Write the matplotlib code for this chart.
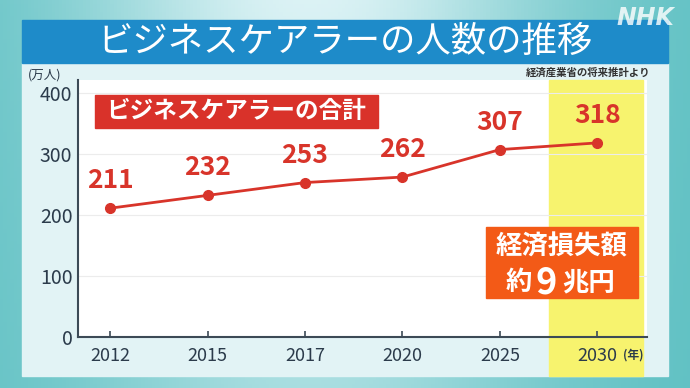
import numpy as np
import matplotlib
matplotlib.use('Agg')
from matplotlib import pyplot as plt
from matplotlib.patches import Rectangle
import matplotlib.transforms as mtransforms

plt.rcParams['font.family'] = ['Noto Sans CJK JP', 'DejaVu Sans']

# data
years = ['2012', '2015', '2017', '2020', '2025', '2030']
carers = [211, 232, 253, 262, 307, 318]   # 万人
yticks = [0, 100, 200, 300, 400]

red = '#d8342a'
ink = '#2b3b4b'

fig = plt.figure(figsize=(6.9, 3.88), dpi=100)

# teal background gradient, panel and title bar (in a full-figure axes)
bg = fig.add_axes([0, 0, 1, 1])
bg.set_zorder(-1)
xs = np.linspace(0, 1, 200)
ys = np.linspace(0, 1, 100)
X, Y = np.meshgrid(xs, ys)
light = np.exp(-((X - 0.45) / 0.35) ** 2) * (0.6 + 0.4 * Y)
c0 = np.array([0.36, 0.75, 0.76])
c1 = np.array([0.86, 0.95, 0.96])
img = c0 + (c1 - c0) * light[..., None]
bg.imshow(img, extent=[0, 1, 0, 1], aspect='auto', origin='lower')
bg.add_patch(Rectangle((22 / 690, 1 - 376 / 388), 646 / 690, 313 / 388,
                       color='#e2f3f5'))
bg.add_patch(Rectangle((22 / 690, 1 - 63 / 388), 646 / 690, 43 / 388,
                       color='#1e8bc9'))
bg.set_xlim(0, 1)
bg.set_ylim(0, 1)
bg.axis('off')

fig.text(0.5, 1 - 42 / 388, 'ビジネスケアラーの人数の推移', color='white',
         fontsize=25.5, ha='center', va='center')
fig.text(645 / 690, 1 - 18 / 388, 'NHK', color='white', alpha=0.8, fontsize=17,
         fontweight='bold', style='italic', family='DejaVu Sans',
         ha='center', va='center')

ax = fig.add_axes([78 / 690, 1 - 337 / 388, 569 / 690, 257 / 388])
ax.set_facecolor('white')
x = np.arange(len(years))

# highlight of the forecast year
trans = mtransforms.blended_transform_factory(ax.transData, ax.transAxes)
ax.add_patch(Rectangle((4.5, -0.152), 0.97, 1.152, transform=trans,
                       color='#f7f36e', clip_on=False, zorder=0))

ax.plot(x, carers, color=red, lw=2, marker='o', ms=7, zorder=3)
for xi, v in zip(x, carers):
    ax.annotate(str(v), (xi, v), xytext=(0, 10), textcoords='offset points',
                ha='center', va='bottom', color=red, fontsize=19,
                fontweight='bold')

ax.set_xlim(-0.33, 5.51)
ax.set_ylim(0, 421)
ax.set_yticks(yticks)
ax.set_xticks(x)
ax.set_xticklabels(years)
ax.yaxis.grid(True, color='#ececec', lw=0.8)
ax.set_axisbelow(True)
ax.tick_params(axis='y', length=0, pad=4, labelsize=14, labelcolor=ink)
ax.tick_params(axis='x', direction='in', length=4, width=1.2, color='#3c4a56',
               pad=7, labelsize=13, labelcolor=ink)
for s in ['top', 'right']:
    ax.spines[s].set_visible(False)
for s in ['left', 'bottom']:
    ax.spines[s].set_color('#3c4a56')
    ax.spines[s].set_linewidth(1.5)

# series label box
ax.add_patch(Rectangle((0.030, 0.815), 0.497, 0.125, transform=ax.transAxes,
                       color='#d9322a', zorder=4))
ax.text(0.278, 0.878, 'ビジネスケアラーの合計', transform=ax.transAxes,
        color='white', fontsize=17, fontweight='bold', ha='center',
        va='center', zorder=5)

# economic loss box
ax.add_patch(Rectangle((3.86, 0.152), 1.56, 0.276, transform=trans,
                       color='#f35a17', zorder=4))
ax.text(4.63, 0.350, '経済損失額', transform=trans, color='white',
        fontsize=19, fontweight='bold', ha='center', va='center', zorder=5)
ax.text(4.19, 0.212, '約', transform=trans, color='white',
        fontsize=19, fontweight='bold', ha='center', va='center', zorder=5)
ax.text(4.48, 0.212, '9', transform=trans, color='white',
        fontsize=26, fontweight='bold', ha='center', va='center', zorder=5)
ax.text(4.91, 0.212, '兆円', transform=trans, color='white',
        fontsize=19, fontweight='bold', ha='center', va='center', zorder=5)

fig.text(45 / 690, 1 - 75 / 388, '(万人)', fontsize=9, color=ink,
         ha='center', va='center')
fig.text(650 / 690, 1 - 73 / 388, '経済産業省の将来推計より', fontsize=7.5,
         fontweight='bold', color='#333333', ha='right', va='center')
fig.text(633 / 690, 1 - 355 / 388, '(年)', fontsize=8.5, fontweight='bold',
         color=ink, ha='center', va='center')

fig.savefig('out.png', dpi=100)
